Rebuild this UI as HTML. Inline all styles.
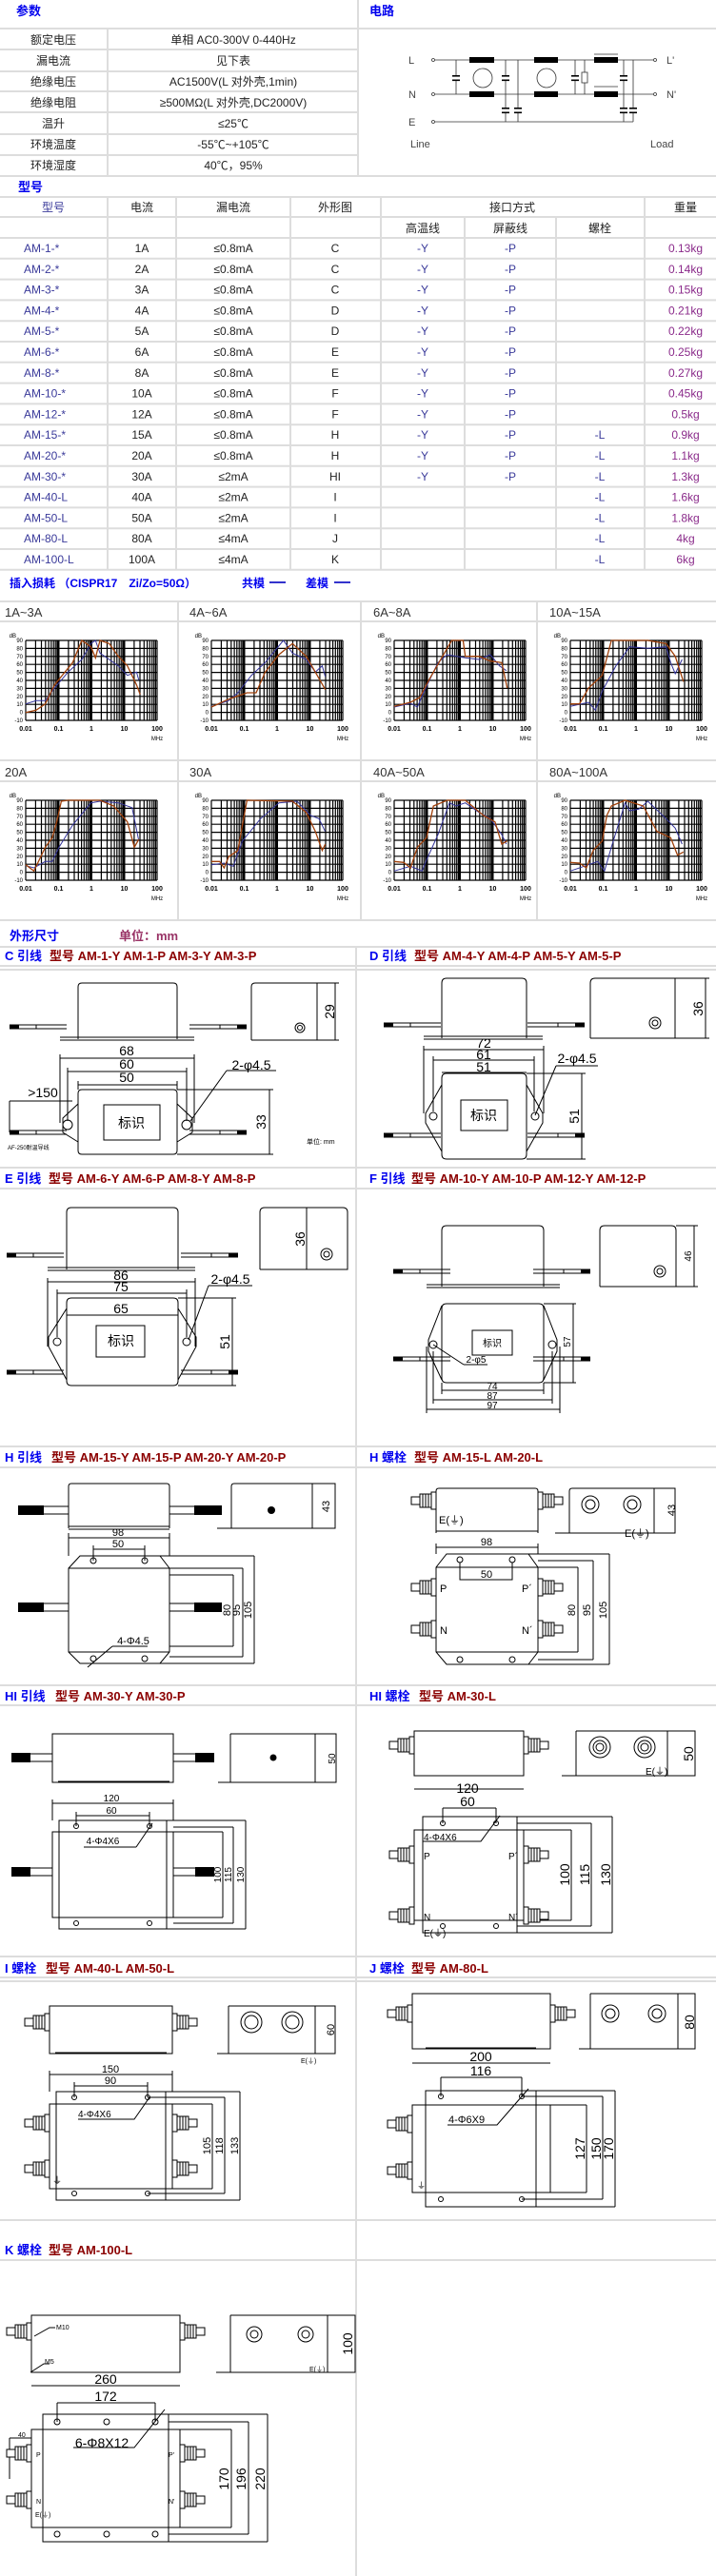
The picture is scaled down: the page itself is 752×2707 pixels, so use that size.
<!DOCTYPE html>
<html><head><meta charset="utf-8"><style>
html,body{margin:0;padding:0;background:#fff;}
svg{display:block;}
text{font-family:"Liberation Sans","Noto Sans CJK SC",sans-serif;}
.g{stroke:#ddd;stroke-width:2;fill:none}
.k{stroke:#000;stroke-width:1;fill:none}
.kw{stroke:#000;stroke-width:1;fill:#fff}
.tb{font-size:12px;fill:#222;text-anchor:middle}
.md{font-size:12px;fill:#3a3a9a}
.wt{font-size:12px;fill:#8a2a8a;text-anchor:middle}
.hd{font-size:13px;font-weight:bold;fill:#0000ee}
.st{font-size:13px;font-weight:bold}
.dm{font-size:11px;fill:#000;text-anchor:middle}
.ax{font-size:6px;fill:#000;text-anchor:end}
.axb{font-size:7px;font-weight:bold;fill:#000;text-anchor:middle}
.bl{stroke:#33339a;stroke-width:1;fill:none}
.br{stroke:#a0400a;stroke-width:1.3;fill:none}
</style></head><body>
<svg width="752" height="2707" viewBox="0 0 752 2707" xmlns="http://www.w3.org/2000/svg">
<defs>
<g id="grid">
<path d="M0 0H138M0 8.4H138M0 16.8H138M0 25.2H138M0 33.6H138M0 42H138M0 50.4H138M0 58.8H138M0 67.2H138M0 75.6H138M0 84H138" stroke="#000" stroke-width="1.2"/>
<path d="M0 0V84M10.4 0V84M16.5 0V84M20.8 0V84M24.1 0V84M26.8 0V84M29.2 0V84M31.2 0V84M32.9 0V84M34.5 0V84M44.9 0V84M51 0V84M55.3 0V84M58.6 0V84M61.3 0V84M63.7 0V84M65.7 0V84M67.4 0V84M69 0V84M79.4 0V84M85.5 0V84M89.8 0V84M93.1 0V84M95.8 0V84M98.2 0V84M100.2 0V84M101.9 0V84M103.5 0V84M113.9 0V84M120 0V84M124.3 0V84M127.6 0V84M130.3 0V84M132.7 0V84M134.7 0V84M136.4 0V84M138 0V84" stroke="#000" stroke-width="1.2"/>
<path d="M34.5 0V84M69 0V84M103.5 0V84" stroke="#000" stroke-width="2"/>
</g>
<g id="bolt"><rect x="-26" y="-4" width="9" height="8" fill="#fff" stroke="#000"/><rect x="-17" y="-7" width="12" height="14" fill="#fff" stroke="#000"/><path d="M-14 -7V7M-11 -7V7M-8 -7V7" stroke="#000"/><rect x="-5" y="-9" width="5" height="18" fill="#fff" stroke="#000"/></g>
<g id="wire"><path d="M0 -2H60M0 2H60" stroke="#000"/><path d="M0 0H10" stroke="#000" stroke-width="5"/><path d="M28 -2V2" stroke="#000"/></g>
</defs>

<!-- ===== Parameter section ===== -->
<text x="17" y="16" class="hd">参数</text>
<text x="388" y="16" class="hd">电路</text>
<path class="g" d="M0 30H752M0 52H376M0 75H376M0 96H376M0 118H376M0 141H376M0 163H376M0 185H752M113 30V185M376 0V185"/>
<g class="tb">
<text x="56" y="46">额定电压</text><text x="245" y="46">单相 AC0-300V 0-440Hz</text>
<text x="56" y="68">漏电流</text><text x="245" y="68">见下表</text>
<text x="56" y="90">绝缘电压</text><text x="245" y="90">AC1500V(L 对外壳,1min)</text>
<text x="56" y="112">绝缘电阻</text><text x="245" y="112">≥500MΩ(L 对外壳,DC2000V)</text>
<text x="56" y="134">温升</text><text x="245" y="134">≤25℃</text>
<text x="56" y="156">环境温度</text><text x="245" y="156">-55℃~+105℃</text>
<text x="56" y="178">环境湿度</text><text x="245" y="178">40℃，95%</text>
</g>
<!-- circuit -->
<g stroke="#333" fill="none" stroke-width="0.8">
<path d="M457 63H686M457 99H686M457 128H665"/>
<circle cx="455" cy="63" r="1.5"/><circle cx="455" cy="99" r="1.5"/><circle cx="455" cy="128" r="1.5"/>
<circle cx="688" cy="63" r="1.5"/><circle cx="688" cy="99" r="1.5"/>
<circle cx="507" cy="82" r="10"/><circle cx="574" cy="82" r="10"/>
<path d="M479 63V80M479 84V99M531 63V80M531 84V114M531 119V128M544 63V114M544 119V128M604 63V80M604 84V99M614 63V76M614 87V99M655 63V80M655 84V114M655 119V128M665 63V114M665 119V128"/>
<rect x="611" y="76" width="6" height="11"/>
<path d="M624 57H649M624 91H649"/>
</g>
<g fill="#000">
<rect x="493" y="60" width="26" height="6"/><rect x="493" y="96" width="26" height="6"/>
<rect x="561" y="60" width="25" height="6"/><rect x="561" y="96" width="25" height="6"/>
<rect x="624" y="60" width="25" height="6"/><rect x="624" y="96" width="25" height="6"/>
<rect x="475" y="79" width="8" height="1.6"/><rect x="475" y="83.5" width="8" height="1.6"/>
<rect x="527" y="79" width="8" height="1.6"/><rect x="527" y="83.5" width="8" height="1.6"/>
<rect x="600" y="79" width="8" height="1.6"/><rect x="600" y="83.5" width="8" height="1.6"/>
<rect x="651" y="79" width="8" height="1.6"/><rect x="651" y="83.5" width="8" height="1.6"/>
<rect x="527" y="113" width="8" height="1.6"/><rect x="527" y="117.5" width="8" height="1.6"/>
<rect x="540" y="113" width="8" height="1.6"/><rect x="540" y="117.5" width="8" height="1.6"/>
<rect x="651" y="113" width="8" height="1.6"/><rect x="651" y="117.5" width="8" height="1.6"/>
<rect x="661" y="113" width="8" height="1.6"/><rect x="661" y="117.5" width="8" height="1.6"/>
</g>
<g font-family="Liberation Mono,monospace" font-size="11" fill="#444">
<text x="429" y="67">L</text><text x="429" y="103">N</text><text x="429" y="132">E</text>
<text x="700" y="67">L'</text><text x="700" y="103">N'</text>
<text x="431" y="155">Line</text><text x="683" y="155">Load</text>
</g>

<!-- ===== Model table ===== -->
<text x="19" y="201" class="hd">型号</text>
<path class="g" d="M0 207H752M0 228H752M113 207V599M185 207V599M305 207V599M400 207V599M488 228V599M584 228V599M677 207V599"/>
<path class="g" d="M0 250H752M0 271.8H752M0 293.6H752M0 315.4H752M0 337.2H752M0 359H752M0 380.8H752M0 402.6H752M0 424.4H752M0 446.2H752M0 468H752M0 489.8H752M0 511.6H752M0 533.4H752M0 555.2H752M0 577H752M0 598.8H752"/>
<g class="tb">
<text x="56" y="222" fill="#3a3a9a">型号</text><text x="149" y="222">电流</text><text x="245" y="222">漏电流</text><text x="352" y="222">外形图</text><text x="538" y="222">接口方式</text><text x="720" y="222">重量</text>
<text x="444" y="244">高温线</text><text x="536" y="244">屏蔽线</text><text x="630" y="244">螺栓</text>
</g>
<g class="md">
<text x="25" y="265">AM-1-*</text><text x="25" y="286.8">AM-2-*</text><text x="25" y="308.6">AM-3-*</text><text x="25" y="330.4">AM-4-*</text><text x="25" y="352.2">AM-5-*</text><text x="25" y="374">AM-6-*</text><text x="25" y="395.8">AM-8-*</text><text x="25" y="417.6">AM-10-*</text><text x="25" y="439.4">AM-12-*</text><text x="25" y="461.2">AM-15-*</text><text x="25" y="483">AM-20-*</text><text x="25" y="504.8">AM-30-*</text><text x="25" y="526.6">AM-40-L</text><text x="25" y="548.4">AM-50-L</text><text x="25" y="570.2">AM-80-L</text><text x="25" y="592">AM-100-L</text>
</g>
<g class="tb">
<text x="149" y="265">1A</text><text x="149" y="286.8">2A</text><text x="149" y="308.6">3A</text><text x="149" y="330.4">4A</text><text x="149" y="352.2">5A</text><text x="149" y="374">6A</text><text x="149" y="395.8">8A</text><text x="149" y="417.6">10A</text><text x="149" y="439.4">12A</text><text x="149" y="461.2">15A</text><text x="149" y="483">20A</text><text x="149" y="504.8">30A</text><text x="149" y="526.6">40A</text><text x="149" y="548.4">50A</text><text x="149" y="570.2">80A</text><text x="149" y="592">100A</text>
<text x="245" y="265">≤0.8mA</text><text x="245" y="286.8">≤0.8mA</text><text x="245" y="308.6">≤0.8mA</text><text x="245" y="330.4">≤0.8mA</text><text x="245" y="352.2">≤0.8mA</text><text x="245" y="374">≤0.8mA</text><text x="245" y="395.8">≤0.8mA</text><text x="245" y="417.6">≤0.8mA</text><text x="245" y="439.4">≤0.8mA</text><text x="245" y="461.2">≤0.8mA</text><text x="245" y="483">≤0.8mA</text><text x="245" y="504.8">≤2mA</text><text x="245" y="526.6">≤2mA</text><text x="245" y="548.4">≤2mA</text><text x="245" y="570.2">≤4mA</text><text x="245" y="592">≤4mA</text>
<text x="352" y="265">C</text><text x="352" y="286.8">C</text><text x="352" y="308.6">C</text><text x="352" y="330.4">D</text><text x="352" y="352.2">D</text><text x="352" y="374">E</text><text x="352" y="395.8">E</text><text x="352" y="417.6">F</text><text x="352" y="439.4">F</text><text x="352" y="461.2">H</text><text x="352" y="483">H</text><text x="352" y="504.8">HI</text><text x="352" y="526.6">I</text><text x="352" y="548.4">I</text><text x="352" y="570.2">J</text><text x="352" y="592">K</text>
</g>
<g class="tb" style="fill:#3a3a9a">
<text x="444" y="265">-Y</text><text x="444" y="286.8">-Y</text><text x="444" y="308.6">-Y</text><text x="444" y="330.4">-Y</text><text x="444" y="352.2">-Y</text><text x="444" y="374">-Y</text><text x="444" y="395.8">-Y</text><text x="444" y="417.6">-Y</text><text x="444" y="439.4">-Y</text><text x="444" y="461.2">-Y</text><text x="444" y="483">-Y</text><text x="444" y="504.8">-Y</text>
<text x="536" y="265">-P</text><text x="536" y="286.8">-P</text><text x="536" y="308.6">-P</text><text x="536" y="330.4">-P</text><text x="536" y="352.2">-P</text><text x="536" y="374">-P</text><text x="536" y="395.8">-P</text><text x="536" y="417.6">-P</text><text x="536" y="439.4">-P</text><text x="536" y="461.2">-P</text><text x="536" y="483">-P</text><text x="536" y="504.8">-P</text>
<text x="630" y="461.2">-L</text><text x="630" y="483">-L</text><text x="630" y="504.8">-L</text><text x="630" y="526.6">-L</text><text x="630" y="548.4">-L</text><text x="630" y="570.2">-L</text><text x="630" y="592">-L</text>
</g>
<g class="wt">
<text x="720" y="265">0.13kg</text><text x="720" y="286.8">0.14kg</text><text x="720" y="308.6">0.15kg</text><text x="720" y="330.4">0.21kg</text><text x="720" y="352.2">0.22kg</text><text x="720" y="374">0.25kg</text><text x="720" y="395.8">0.27kg</text><text x="720" y="417.6">0.45kg</text><text x="720" y="439.4">0.5kg</text><text x="720" y="461.2">0.9kg</text><text x="720" y="483">1.1kg</text><text x="720" y="504.8">1.3kg</text><text x="720" y="526.6">1.6kg</text><text x="720" y="548.4">1.8kg</text><text x="720" y="570.2">4kg</text><text x="720" y="592">6kg</text>
</g>

<!-- ===== Insertion loss ===== -->
<text x="10" y="617" class="hd" style="font-size:12px">插入损耗 （CISPR17　Zi/Zo=50Ω）</text>
<text x="254" y="617" class="hd" style="font-size:12px">共模</text><path d="M283 612H300" stroke="#3333cc" stroke-width="2"/>
<text x="321" y="617" class="hd" style="font-size:12px">差模</text><path d="M351 612H368" stroke="#3333cc" stroke-width="2"/>
<path class="g" d="M0 632H752M0 653H752M0 799H752M0 821H752M0 967H752M187 632V967M379 632V967M564 632V967"/>
<g font-size="13" fill="#333">
<text x="5" y="648">1A~3A</text><text x="199" y="648">4A~6A</text><text x="392" y="648">6A~8A</text><text x="577" y="648">10A~15A</text>
<text x="5" y="816">20A</text><text x="199" y="816">30A</text><text x="392" y="816">40A~50A</text><text x="577" y="816">80A~100A</text>
</g>

<g transform="translate(27,673)"><use href="#grid"/>
<g class="ax"><text x="-3" y="2">90</text><text x="-3" y="10.4">80</text><text x="-3" y="18.8">70</text><text x="-3" y="27.2">60</text><text x="-3" y="35.6">50</text><text x="-3" y="44">40</text><text x="-3" y="52.4">30</text><text x="-3" y="60.8">20</text><text x="-3" y="69.2">10</text><text x="-3" y="77.6">0</text><text x="-3" y="86">-10</text><text x="-10" y="-3">dB</text></g>
<g class="axb"><text x="0" y="95">0.01</text><text x="34.5" y="95">0.1</text><text x="69" y="95">1</text><text x="103.5" y="95">10</text><text x="138" y="95">100</text><text x="138" y="105" style="font-size:6px;font-weight:normal">MHz</text></g>
<polyline class="bl" points="0,66.7 11,63.3 20.6,63.3 30.2,50 44.5,33.3 58.9,20 68.5,3.3 73.3,0 78,13.3 87.7,20 97.3,26.7 106.8,36.7 116.4,33.3 118.8,41.7"/>
<polyline class="br" points="0,75.7 11,73.3 20.6,66.7 30.2,46.7 49.3,23.3 58.9,0 68.5,6.7 73.3,18.3 78,0 87.7,3.3 97.3,16.7 106.8,26.7 116.4,46.7 120.2,56.7"/>
</g>
<g transform="translate(222,673)"><use href="#grid"/>
<g class="ax"><text x="-3" y="2">90</text><text x="-3" y="10.4">80</text><text x="-3" y="18.8">70</text><text x="-3" y="27.2">60</text><text x="-3" y="35.6">50</text><text x="-3" y="44">40</text><text x="-3" y="52.4">30</text><text x="-3" y="60.8">20</text><text x="-3" y="69.2">10</text><text x="-3" y="77.6">0</text><text x="-3" y="86">-10</text><text x="-10" y="-3">dB</text></g>
<g class="axb"><text x="0" y="95">0.01</text><text x="34.5" y="95">0.1</text><text x="69" y="95">1</text><text x="103.5" y="95">10</text><text x="138" y="95">100</text><text x="138" y="105" style="font-size:6px;font-weight:normal">MHz</text></g>
<polyline class="bl" points="0,69.3 18.2,63.3 27.8,55 42.1,36.7 56.5,23.3 75.6,0 85.2,13.3 99.6,20 109.2,33.3 116.4,26.7 119.7,38.3"/>
<polyline class="br" points="0,70 18.2,61.7 37.4,55 47,55 56.5,33.3 70.9,15 85.2,3.3 99.6,16.7 109.2,33.3 119.7,51.7"/>
</g>
<g transform="translate(414,673)"><use href="#grid"/>
<g class="ax"><text x="-3" y="2">90</text><text x="-3" y="10.4">80</text><text x="-3" y="18.8">70</text><text x="-3" y="27.2">60</text><text x="-3" y="35.6">50</text><text x="-3" y="44">40</text><text x="-3" y="52.4">30</text><text x="-3" y="60.8">20</text><text x="-3" y="69.2">10</text><text x="-3" y="77.6">0</text><text x="-3" y="86">-10</text><text x="-10" y="-3">dB</text></g>
<g class="axb"><text x="0" y="95">0.01</text><text x="34.5" y="95">0.1</text><text x="69" y="95">1</text><text x="103.5" y="95">10</text><text x="138" y="95">100</text><text x="138" y="105" style="font-size:6px;font-weight:normal">MHz</text></g>
<polyline class="bl" points="0,70 17.2,66 24.4,70 31.6,53.3 46,23.3 55.6,15 74.7,18.3 89.1,20 101,15 110.6,26.7 117.8,31.7"/>
<polyline class="br" points="0,69.3 17.2,65 26.8,60 36.4,41.7 50.8,16.7 60.4,0 72.4,0 74.7,16.7 89.1,16.7 101,21.7 113,23.3 118.7,50"/>
</g>
<g transform="translate(599,673)"><use href="#grid"/>
<g class="ax"><text x="-3" y="2">90</text><text x="-3" y="10.4">80</text><text x="-3" y="18.8">70</text><text x="-3" y="27.2">60</text><text x="-3" y="35.6">50</text><text x="-3" y="44">40</text><text x="-3" y="52.4">30</text><text x="-3" y="60.8">20</text><text x="-3" y="69.2">10</text><text x="-3" y="77.6">0</text><text x="-3" y="86">-10</text><text x="-10" y="-3">dB</text></g>
<g class="axb"><text x="0" y="95">0.01</text><text x="34.5" y="95">0.1</text><text x="69" y="95">1</text><text x="103.5" y="95">10</text><text x="138" y="95">100</text><text x="138" y="105" style="font-size:6px;font-weight:normal">MHz</text></g>
<polyline class="bl" points="0,69.3 19.2,65 26.3,73.3 33.5,53.3 47.9,26.7 62.3,6.7 81.4,8.3 100.6,6.7 105.4,23.3 110.2,35 117.4,20"/>
<polyline class="br" points="0,66.7 9.6,66.7 19.2,50 33.5,36.7 43.1,0 81.4,0 100.6,3.3 110.2,16.7 118.8,43.3"/>
</g>
<g transform="translate(27,841)"><use href="#grid"/>
<g class="ax"><text x="-3" y="2">90</text><text x="-3" y="10.4">80</text><text x="-3" y="18.8">70</text><text x="-3" y="27.2">60</text><text x="-3" y="35.6">50</text><text x="-3" y="44">40</text><text x="-3" y="52.4">30</text><text x="-3" y="60.8">20</text><text x="-3" y="69.2">10</text><text x="-3" y="77.6">0</text><text x="-3" y="86">-10</text><text x="-10" y="-3">dB</text></g>
<g class="axb"><text x="0" y="95">0.01</text><text x="34.5" y="95">0.1</text><text x="69" y="95">1</text><text x="103.5" y="95">10</text><text x="138" y="95">100</text><text x="138" y="105" style="font-size:6px;font-weight:normal">MHz</text></g>
<polyline class="bl" points="0,68.7 8.6,71 20.6,64.3 27.8,64.3 35,49.3 49.3,26 68.5,2.7 78,1 97.3,2.7 111.7,7.7 114.1,19.3 118.8,42.7"/>
<polyline class="br" points="0,67.7 8.6,74.3 20.6,49.3 27.8,39.3 32.6,22.7 37.4,1 44.5,0 78,0 92.4,6 106.8,22.7 114.1,49.3 118.8,41"/>
</g>
<g transform="translate(222,841)"><use href="#grid"/>
<g class="ax"><text x="-3" y="2">90</text><text x="-3" y="10.4">80</text><text x="-3" y="18.8">70</text><text x="-3" y="27.2">60</text><text x="-3" y="35.6">50</text><text x="-3" y="44">40</text><text x="-3" y="52.4">30</text><text x="-3" y="60.8">20</text><text x="-3" y="69.2">10</text><text x="-3" y="77.6">0</text><text x="-3" y="86">-10</text><text x="-10" y="-3">dB</text></g>
<g class="axb"><text x="0" y="95">0.01</text><text x="34.5" y="95">0.1</text><text x="69" y="95">1</text><text x="103.5" y="95">10</text><text x="138" y="95">100</text><text x="138" y="105" style="font-size:6px;font-weight:normal">MHz</text></g>
<polyline class="bl" points="0,67.7 13.4,66 23,69.3 32.6,42.7 51.7,19.3 70.9,2.7 90,1 104.4,16 113,19.3 119.5,32.7"/>
<polyline class="br" points="0,64.3 8.6,64.3 13.4,71 18.2,59.3 27.8,52.7 32.6,26 37.4,0 85.2,1 99.6,12.7 109.2,32.7 116.4,52.7 119.7,46"/>
</g>
<g transform="translate(414,841)"><use href="#grid"/>
<g class="ax"><text x="-3" y="2">90</text><text x="-3" y="10.4">80</text><text x="-3" y="18.8">70</text><text x="-3" y="27.2">60</text><text x="-3" y="35.6">50</text><text x="-3" y="44">40</text><text x="-3" y="52.4">30</text><text x="-3" y="60.8">20</text><text x="-3" y="69.2">10</text><text x="-3" y="77.6">0</text><text x="-3" y="86">-10</text><text x="-10" y="-3">dB</text></g>
<g class="axb"><text x="0" y="95">0.01</text><text x="34.5" y="95">0.1</text><text x="69" y="95">1</text><text x="103.5" y="95">10</text><text x="138" y="95">100</text><text x="138" y="105" style="font-size:6px;font-weight:normal">MHz</text></g>
<polyline class="bl" points="0,74.3 17.2,69.3 29.2,74.3 34,62.7 46,36 58,2.7 65.1,6 74.7,2.7 89.1,12.7 101,19.3 113,36 117.8,46"/>
<polyline class="br" points="0,64.3 10,65.3 17.2,71 24.4,49.3 34,39.3 41.2,6 55.6,0 74.7,0 93.9,16 105.9,22.7 113,46 118.7,42.7"/>
</g>
<g transform="translate(599,841)"><use href="#grid"/>
<g class="ax"><text x="-3" y="2">90</text><text x="-3" y="10.4">80</text><text x="-3" y="18.8">70</text><text x="-3" y="27.2">60</text><text x="-3" y="35.6">50</text><text x="-3" y="44">40</text><text x="-3" y="52.4">30</text><text x="-3" y="60.8">20</text><text x="-3" y="69.2">10</text><text x="-3" y="77.6">0</text><text x="-3" y="86">-10</text><text x="-10" y="-3">dB</text></g>
<g class="axb"><text x="0" y="95">0.01</text><text x="34.5" y="95">0.1</text><text x="69" y="95">1</text><text x="103.5" y="95">10</text><text x="138" y="95">100</text><text x="138" y="105" style="font-size:6px;font-weight:normal">MHz</text></g>
<polyline class="bl" points="0,74.3 19.2,67.7 28.7,64.3 35.9,74.3 43.1,49.3 57.5,2.7 62.3,11 71.9,9.3 81.4,1 100.6,19.3 110.2,29.3 117.4,46"/>
<polyline class="br" points="0,65.3 9.6,66 16.8,71 24,52.7 33.5,42.7 38.3,16 43.1,6 57.5,0 76.6,6 91,32.7 105.4,39.3 112.6,57.7 118.8,54.3"/>
</g>

<!-- ===== Dimensions ===== -->
<text x="10" y="988" class="hd">外形尺寸</text>
<text x="125" y="988" class="st" fill="#993366">单位：mm</text>
<path class="g" d="M0 995H752M374 995V2707"/>
<path class="g" d="M0 1015H752M0 1019H752"/>
<text x="5" y="1009" class="st" fill="#0000ee">C 引线</text><text x="52" y="1009" class="st" fill="#8b0000">型号 AM-1-Y AM-1-P AM-3-Y AM-3-P</text>
<text x="388" y="1009" class="st" fill="#0000ee">D 引线</text><text x="435" y="1009" class="st" fill="#8b0000">型号 AM-4-Y AM-4-P AM-5-Y AM-5-P</text>

<!-- C -->
<g class="k">
<path d="M82 1092V1037Q82 1033 86 1033H182Q186 1033 186 1037V1092"/><path d="M63 1090H204M63 1093H204"/>
<path d="M264 1093V1037Q264 1033 268 1033H333V1093H264M333 1033H356M333 1093H356M352 1033V1093"/>
<circle cx="315" cy="1080" r="5"/><circle cx="315" cy="1080" r="2.5"/>
<path d="M63 1112H204M71 1126H196M82 1140H186M63 1108V1180M204 1108V1180M71 1122V1178M196 1122V1178M82 1136V1145M186 1136V1145"/>
<path d="M82 1149V1209Q82 1213 86 1213H182Q186 1213 186 1209V1149Q186 1145 182 1145H86Q82 1145 82 1149"/>
<path d="M82 1160L66 1175V1190L82 1200M186 1160L202 1175V1190L186 1200"/>
<circle cx="71" cy="1182" r="5"/><circle cx="196" cy="1182" r="5"/>
<rect x="109" y="1161" width="59" height="37"/>
<path d="M186 1145H287M186 1213H287M283 1145V1213"/>
<path d="M10 1157H76M10 1157V1190"/>
<path d="M238 1125H290M238 1125L200 1178"/>
</g>
<use href="#wire" transform="translate(10,1079)"/><use href="#wire" transform="translate(259,1079) scale(-1,1)"/>
<use href="#wire" transform="translate(10,1190)"/><use href="#wire" transform="translate(259,1190) scale(-1,1)"/>
<g class="dm" style="font-size:14px"><text x="133" y="1109">68</text><text x="133" y="1123">60</text><text x="133" y="1137">50</text><text x="45" y="1153">&gt;150</text>
<text x="138" y="1185">标识</text><text x="264" y="1124">2-φ4.5</text>
<text transform="translate(351,1063) rotate(-90)">29</text><text transform="translate(279,1179) rotate(-90)">33</text></g>
<text x="8" y="1208" font-size="6">AF-250耐温导线</text><text x="322" y="1202" font-size="7">单位: mm</text>

<!-- D -->
<g class="k">
<path d="M464 1091V1033Q464 1028 469 1028H548Q553 1028 553 1033V1091"/><path d="M445 1089H570M445 1092H570"/>
<path d="M620 1091V1033Q620 1028 625 1028H709V1091H620M709 1028H745M709 1091H745M741 1028V1091"/>
<circle cx="688" cy="1075" r="6"/><circle cx="688" cy="1075" r="3"/>
<path d="M445 1103H571M455 1114H561M464 1127H553M445 1099V1170M571 1099V1170M455 1110V1168M561 1110V1168"/>
<path d="M464 1133Q464 1128 469 1128H548Q553 1128 553 1133V1213Q553 1218 548 1218H469Q464 1218 464 1213Z"/>
<path d="M464 1140L447 1170V1180L464 1210M553 1140L570 1170V1180L553 1210"/>
<circle cx="455" cy="1173" r="4"/><circle cx="562" cy="1173" r="4"/>
<rect x="484" y="1156" width="49" height="32"/>
<path d="M553 1128H615M553 1218H615M611 1128V1218"/>
<path d="M584 1120H628M584 1120L562 1172"/>
</g>
<use href="#wire" transform="translate(403,1077)"/><use href="#wire" transform="translate(614,1077) scale(-1,1)"/>
<use href="#wire" transform="translate(403,1193)"/><use href="#wire" transform="translate(614,1193) scale(-1,1)"/>
<g class="dm" style="font-size:14px"><text x="508" y="1101">72</text><text x="508" y="1113">61</text><text x="508" y="1126">51</text>
<text x="508" y="1177">标识</text><text x="606" y="1117">2-φ4.5</text>
<text transform="translate(738,1060) rotate(-90)">36</text><text transform="translate(608,1173) rotate(-90)">51</text></g>

<!-- E/F titles -->
<path class="g" d="M0 1227H752M0 1249H752"/>
<text x="5" y="1243" class="st" fill="#0000ee">E 引线</text><text x="51" y="1243" class="st" fill="#8b0000">型号 AM-6-Y AM-6-P AM-8-Y AM-8-P</text>
<text x="388" y="1243" class="st" fill="#0000ee">F 引线</text><text x="432" y="1243" class="st" fill="#8b0000">型号 AM-10-Y AM-10-P AM-12-Y AM-12-P</text>

<!-- E -->
<g class="k">
<path d="M70 1334V1274Q70 1269 75 1269H182Q187 1269 187 1274V1334"/><path d="M50 1332H205M50 1335H205"/>
<path d="M273 1334V1274Q273 1269 278 1269H360Q365 1269 365 1274V1334H273M322 1269V1334"/>
<circle cx="343" cy="1318" r="6"/><circle cx="343" cy="1318" r="3"/>
<path d="M50 1347H205M60 1359H196M70 1382H187M50 1343V1415M205 1343V1415M60 1355V1405M196 1355V1405"/>
<path d="M70 1369Q70 1364 75 1364H182Q187 1364 187 1369V1451Q187 1456 182 1456H75Q70 1456 70 1451Z"/>
<path d="M70 1375L51 1405V1415L70 1450M187 1375L206 1405V1415L187 1450"/>
<circle cx="60" cy="1410" r="4"/><circle cx="196" cy="1410" r="4"/>
<rect x="101" y="1393" width="51" height="33"/>
<path d="M187 1364H248M187 1456H248M244 1364V1456"/>
<path d="M219 1351H265M219 1351L198 1408"/>
</g>
<use href="#wire" transform="translate(7,1319)"/><use href="#wire" transform="translate(250,1319) scale(-1,1)"/>
<use href="#wire" transform="translate(7,1442)"/><use href="#wire" transform="translate(250,1442) scale(-1,1)"/>
<g class="dm" style="font-size:14px"><text x="127" y="1345">86</text><text x="127" y="1357">75</text><text x="127" y="1380">65</text>
<text x="127" y="1414">标识</text><text x="242" y="1349">2-φ4.5</text>
<text transform="translate(320,1302) rotate(-90)">36</text><text transform="translate(241,1410) rotate(-90)">51</text></g>

<!-- F -->
<g class="k">
<path d="M464 1352V1293Q464 1288 469 1288H566Q571 1288 571 1293V1352"/><path d="M448 1350H588M448 1353H588"/>
<path d="M630 1352V1293Q630 1288 635 1288H705Q710 1288 710 1293V1352H630M710 1288H733M710 1352H733M729 1288V1352"/>
<circle cx="693" cy="1336" r="6"/><circle cx="693" cy="1336" r="3"/>
<path d="M464 1375Q464 1370 469 1370H566Q571 1370 571 1375V1448Q571 1453 566 1453H469Q464 1453 464 1448Z"/>
<path d="M464 1372L450 1408V1420L464 1450M571 1372L585 1408V1420L571 1450"/>
<circle cx="455" cy="1413" r="4"/><circle cx="580" cy="1413" r="4"/>
<rect x="496" y="1398" width="42" height="26"/>
<path d="M571 1370H605M571 1453H605M602 1370V1453"/>
<path d="M464 1461H571M455 1471H580M448 1481H588M464 1453V1465M571 1453V1465M455 1420V1475M580 1420V1475M448 1415V1485M588 1415V1485"/>
<path d="M487 1434H512M487 1434L455 1413"/>
</g>
<use href="#wire" transform="translate(413,1336)"/><use href="#wire" transform="translate(620,1336) scale(-1,1)"/>
<use href="#wire" transform="translate(413,1428)"/><use href="#wire" transform="translate(620,1428) scale(-1,1)"/>
<g class="dm" style="font-size:10px"><text x="517" y="1460">74</text><text x="517" y="1470">87</text><text x="517" y="1480">97</text>
<text x="517" y="1415">标识</text><text x="500" y="1432">2-φ5</text>
<text transform="translate(726,1320) rotate(-90)">46</text><text transform="translate(599,1410) rotate(-90)">57</text></g>

<!-- H titles -->
<path class="g" d="M0 1520H752M0 1542H752"/>
<text x="5" y="1536" class="st" fill="#0000ee">H 引线</text><text x="54" y="1536" class="st" fill="#8b0000">型号 AM-15-Y AM-15-P AM-20-Y AM-20-P</text>
<text x="388" y="1536" class="st" fill="#0000ee">H 螺栓</text><text x="435" y="1536" class="st" fill="#8b0000">型号 AM-15-L AM-20-L</text>

<!-- H lead -->
<g class="k">
<path d="M72 1606V1562Q72 1559 75 1559H175Q178 1559 178 1562V1606M72 1604H178M72 1607H178"/>
<path d="M243 1606V1562Q243 1559 246 1559H352V1606H228M328 1559V1606M352 1559V1606"/>
<path d="M72 1616H178M98 1628H152M98 1624V1640M152 1624V1640M72 1611V1635M178 1611V1635"/>
<path d="M84 1635H168L178 1648V1736L168 1748H84L72 1736V1648Z"/><path d="M72 1648H178M72 1736H178"/>
<circle cx="98" cy="1640" r="3"/><circle cx="152" cy="1640" r="3"/><circle cx="98" cy="1743" r="3"/><circle cx="152" cy="1743" r="3"/>
<path d="M152 1635H267M178 1648H255M178 1655H245M178 1730H245M178 1741H255M152 1748H267M245 1655V1730M255 1648V1741M267 1635V1748"/>
<path d="M118 1730H155M118 1730L92 1752"/>
<path d="M46 1583H72M46 1591H72M178 1583H204M178 1591H204M46 1685H72M46 1693H72M178 1685H204M178 1693H204"/>
</g>
<g fill="#000"><rect x="19" y="1582" width="27" height="10"/><rect x="204" y="1582" width="29" height="10"/><rect x="19" y="1684" width="27" height="10"/><rect x="204" y="1684" width="29" height="10"/><circle cx="285" cy="1587" r="4"/></g>
<g class="dm"><text x="124" y="1614">98</text><text x="124" y="1626">50</text><text x="140" y="1728">4-Φ4.5</text>
<text transform="translate(346,1583) rotate(-90)">43</text><text transform="translate(242,1692) rotate(-90)">80</text><text transform="translate(252,1692) rotate(-90)">95</text><text transform="translate(264,1692) rotate(-90)">105</text></g>

<!-- H bolt -->
<g class="k">
<path d="M458 1611V1567Q458 1564 461 1564H562Q565 1564 565 1567V1611M458 1609H565"/>
<path d="M598 1611V1567Q598 1564 601 1564H709V1611H583M687 1564V1611"/>
<circle cx="620" cy="1581" r="9"/><circle cx="620" cy="1581" r="5"/><circle cx="664" cy="1581" r="9"/><circle cx="664" cy="1581" r="5"/>
<path d="M458 1626H565M458 1622V1633M565 1622V1633"/>
<path d="M469 1633H555L565 1647V1736L555 1749H469L458 1736V1647Z"/><path d="M458 1647H565M458 1736H565"/>
<circle cx="483" cy="1639" r="3"/><circle cx="538" cy="1639" r="3"/><circle cx="483" cy="1744" r="3"/><circle cx="538" cy="1744" r="3"/>
<path d="M483 1642V1660H538V1642"/>
<path d="M538 1633H640M565 1640H623M565 1647H607M565 1736H607M565 1744H623M538 1749H640M607 1647V1736M623 1640V1744M640 1633V1749"/>
</g>
<use href="#bolt" transform="translate(458,1577)"/><use href="#bolt" transform="translate(565,1577) scale(-1,1)"/>
<use href="#bolt" transform="translate(458,1668)"/><use href="#bolt" transform="translate(565,1668) scale(-1,1)"/>
<use href="#bolt" transform="translate(458,1712)"/><use href="#bolt" transform="translate(565,1712) scale(-1,1)"/>
<g font-size="11"><text x="461" y="1601">E(⏚)</text><text x="656" y="1615">E(⏚)</text><text x="462" y="1673">P</text><text x="548" y="1673">P´</text><text x="462" y="1717">N</text><text x="548" y="1717">N´</text></g>
<g class="dm"><text x="511" y="1624">98</text><text x="511" y="1658">50</text>
<text transform="translate(709,1587) rotate(-90)">43</text><text transform="translate(604,1692) rotate(-90)">80</text><text transform="translate(620,1692) rotate(-90)">95</text><text transform="translate(637,1692) rotate(-90)">105</text></g>

<!-- HI titles -->
<path class="g" d="M0 1771H752M0 1792H752"/>
<text x="5" y="1787" class="st" fill="#0000ee">HI 引线</text><text x="58" y="1787" class="st" fill="#8b0000">型号 AM-30-Y AM-30-P</text>
<text x="388" y="1787" class="st" fill="#0000ee">HI 螺栓</text><text x="440" y="1787" class="st" fill="#8b0000">型号 AM-30-L</text>

<!-- HI lead -->
<g class="k">
<rect x="55" y="1822" width="127" height="51"/><path d="M61 1872H178"/>
<path d="M242 1822H353V1873H229M242 1822V1873M331 1822V1873"/>
<path d="M55 1895H182M80 1908H157M55 1891V1913M182 1891V1913M80 1904V1919M157 1904V1919"/>
<rect x="62" y="1913" width="113" height="114"/><rect x="55" y="1925" width="127" height="90"/>
<circle cx="80" cy="1919" r="2.5"/><circle cx="157" cy="1919" r="2.5"/><circle cx="80" cy="2021" r="2.5"/><circle cx="157" cy="2021" r="2.5"/>
<path d="M157 1913H258M182 1920H245M182 1925H234M182 2015H234M182 2021H245M157 2027H258M234 1925V2015M245 1920V2021M258 1913V2027"/>
<path d="M88 1941H143M143 1941L160 1916"/>
<path d="M32 1843H55M32 1851H55M182 1843H205M182 1851H205M32 1963H55M32 1971H55M182 1963H205M182 1971H205"/>
</g>
<g fill="#000"><rect x="12" y="1842" width="20" height="10"/><rect x="205" y="1842" width="20" height="10"/><rect x="12" y="1962" width="20" height="10"/><rect x="205" y="1962" width="20" height="10"/><circle cx="287" cy="1847" r="3.5"/></g>
<g class="dm" style="font-size:10px"><text x="117" y="1893">120</text><text x="117" y="1906">60</text><text x="108" y="1938">4-Φ4X6</text>
<text transform="translate(352,1848) rotate(-90)">50</text><text transform="translate(232,1970) rotate(-90)">100</text><text transform="translate(243,1970) rotate(-90)">115</text><text transform="translate(256,1970) rotate(-90)">130</text></g>

<!-- HI bolt -->
<g class="k">
<rect x="435" y="1819" width="115" height="47"/>
<path d="M605 1819H730V1866H590M605 1819V1866M701 1819V1866"/>
<circle cx="630" cy="1836" r="11"/><circle cx="630" cy="1836" r="7"/><circle cx="630" cy="1836" r="4"/><circle cx="677" cy="1836" r="11"/><circle cx="677" cy="1836" r="7"/><circle cx="677" cy="1836" r="4"/>
<path d="M435 1880H550M465 1900H521M465 1900V1916M521 1900V1916"/>
<rect x="444" y="1909" width="99" height="122"/><rect x="435" y="1923" width="115" height="95"/>
<circle cx="465" cy="1916" r="2.5"/><circle cx="521" cy="1916" r="2.5"/><circle cx="465" cy="2024" r="2.5"/><circle cx="521" cy="2024" r="2.5"/>
<path d="M543 1909H643M543 1916H621M550 1923H600M550 2018H600M543 2024H621M543 2031H643M600 1923V2018M621 1916V2024M643 1909V2031"/>
<path d="M444 1935H505L525 1908"/>
</g>
<use href="#bolt" transform="translate(435,1834)"/><use href="#bolt" transform="translate(550,1834) scale(-1,1)"/>
<use href="#bolt" transform="translate(435,1949)"/><use href="#bolt" transform="translate(550,1949) scale(-1,1)"/>
<use href="#bolt" transform="translate(435,2013)"/><use href="#bolt" transform="translate(550,2013) scale(-1,1)"/>
<g font-size="10"><text x="445" y="1954">P</text><text x="534" y="1954">P´</text><text x="445" y="2018">N</text><text x="534" y="2018">N´</text><text x="445" y="2035">E(⏚)</text><text x="678" y="1865">E(⏚)</text><text x="445" y="1934">4-Φ4X6</text></g>
<g class="dm" style="font-size:14px"><text x="491" y="1884">120</text><text x="491" y="1898">60</text>
<text transform="translate(728,1843) rotate(-90)">50</text><text transform="translate(598,1970) rotate(-90)">100</text><text transform="translate(619,1970) rotate(-90)">115</text><text transform="translate(641,1970) rotate(-90)">130</text></g>

<!-- I/J titles -->
<path class="g" d="M0 2056H752M0 2078H752M0 2082H752"/>
<text x="5" y="2073" class="st" fill="#0000ee">I 螺栓</text><text x="48" y="2073" class="st" fill="#8b0000">型号 AM-40-L AM-50-L</text>
<text x="388" y="2073" class="st" fill="#0000ee">J 螺栓</text><text x="432" y="2073" class="st" fill="#8b0000">型号 AM-80-L</text>

<!-- I -->
<g class="k">
<rect x="52" y="2108" width="129" height="50"/><path d="M58 2157H175"/>
<path d="M240 2108H352V2158H228M240 2108V2158M331 2108V2158"/>
<circle cx="264" cy="2125" r="11"/><circle cx="264" cy="2125" r="7"/><circle cx="307" cy="2125" r="11"/><circle cx="307" cy="2125" r="7"/>
<path d="M52 2180H181M78 2192H155M52 2176V2198M181 2176V2198M78 2188V2204M155 2188V2204"/>
<rect x="59" y="2198" width="115" height="114"/><rect x="52" y="2211" width="129" height="89"/>
<circle cx="78" cy="2204" r="2.5"/><circle cx="155" cy="2204" r="2.5"/><circle cx="78" cy="2305" r="2.5"/><circle cx="155" cy="2305" r="2.5"/>
<path d="M174 2198H252M155 2204H236M181 2211H223M181 2300H223M155 2305H236M174 2312H252M223 2211V2300M236 2204V2305M252 2198V2312"/>
<path d="M82 2227H141L157 2204"/>
</g>
<use href="#bolt" transform="translate(52,2125)"/><use href="#bolt" transform="translate(181,2125) scale(-1,1)"/>
<use href="#bolt" transform="translate(52,2231)"/><use href="#bolt" transform="translate(181,2231) scale(-1,1)"/>
<use href="#bolt" transform="translate(52,2279)"/><use href="#bolt" transform="translate(181,2279) scale(-1,1)"/>
<g font-size="10"><text x="82" y="2225">4-Φ4X6</text><text x="316" y="2168" font-size="7">E(⏚)</text><text x="55" y="2295">⏚</text></g>
<g class="dm"><text x="116" y="2178">150</text><text x="116" y="2190">90</text>
<text transform="translate(351,2133) rotate(-90)">60</text><text transform="translate(221,2255) rotate(-90)">105</text><text transform="translate(234,2255) rotate(-90)">118</text><text transform="translate(250,2255) rotate(-90)">133</text></g>

<!-- J -->
<g class="k">
<rect x="433" y="2095" width="145" height="58"/><path d="M447 2152H563"/>
<path d="M620 2095H730V2153H608M620 2095V2153M712 2095V2153"/>
<circle cx="641" cy="2116" r="9"/><circle cx="641" cy="2116" r="5"/><circle cx="690" cy="2116" r="9"/><circle cx="690" cy="2116" r="5"/>
<path d="M433 2168H578M463 2183H548M463 2183V2203M548 2183V2203"/>
<rect x="447" y="2197" width="116" height="122"/><rect x="433" y="2212" width="145" height="92"/>
<circle cx="463" cy="2203" r="2.5"/><circle cx="548" cy="2203" r="2.5"/><circle cx="463" cy="2311" r="2.5"/><circle cx="548" cy="2311" r="2.5"/>
<path d="M563 2197H646M548 2203H633M578 2212H616M578 2304H616M548 2311H633M563 2319H646M616 2212V2304M633 2203V2311M646 2197V2319"/>
<path d="M470 2233H522L555 2195"/>
</g>
<use href="#bolt" transform="translate(433,2116)"/><use href="#bolt" transform="translate(578,2116) scale(-1,1)"/>
<use href="#bolt" transform="translate(433,2232)"/><use href="#bolt" transform="translate(433,2281)"/>
<g font-size="11"><text x="471" y="2231">4-Φ6X9</text><text x="438" y="2300" font-size="9">⏚</text></g>
<g class="dm" style="font-size:14px"><text x="505" y="2166">200</text><text x="505" y="2181">116</text>
<text transform="translate(729,2125) rotate(-90)">80</text><text transform="translate(614,2258) rotate(-90)">127</text><text transform="translate(631,2258) rotate(-90)">150</text><text transform="translate(644,2258) rotate(-90)">170</text></g>

<!-- K titles -->
<path class="g" d="M0 2333H752M0 2375H752"/>
<text x="5" y="2369" class="st" fill="#0000ee">K 螺栓</text><text x="51" y="2369" class="st" fill="#8b0000">型号 AM-100-L</text>

<!-- K -->
<g class="k">
<rect x="33" y="2433" width="156" height="60"/>
<path d="M242 2433H373V2493H227M242 2433V2493M344 2433V2493"/>
<circle cx="267" cy="2453" r="8"/><circle cx="267" cy="2453" r="4"/><circle cx="321" cy="2453" r="8"/><circle cx="321" cy="2453" r="4"/>
<path d="M36 2455L52 2446H58M32 2493L46 2484H52"/>
<path d="M33 2507H189M60 2525H163M60 2525V2545M163 2525V2545"/>
<rect x="45" y="2537" width="132" height="134"/><rect x="33" y="2553" width="156" height="103"/>
<circle cx="60" cy="2545" r="3"/><circle cx="112" cy="2545" r="3"/><circle cx="163" cy="2545" r="3"/><circle cx="60" cy="2663" r="3"/><circle cx="112" cy="2663" r="3"/><circle cx="163" cy="2663" r="3"/>
<path d="M177 2537H281M177 2545H261M189 2553H243M189 2656H243M177 2663H261M177 2671H281M243 2553V2656M261 2545V2663M281 2537V2671"/>
<path d="M77 2572H141L173 2532"/><path d="M10 2562H33M10 2562V2605"/>
</g>
<use href="#bolt" transform="translate(33,2450)"/><use href="#bolt" transform="translate(189,2450) scale(-1,1)"/>
<use href="#bolt" transform="translate(33,2578)"/><use href="#bolt" transform="translate(189,2578) scale(-1,1)"/>
<use href="#bolt" transform="translate(33,2627)"/><use href="#bolt" transform="translate(189,2627) scale(-1,1)"/>
<g font-size="7"><text x="59" y="2448">M10</text><text x="47" y="2484">M5</text><text x="19" y="2561">40</text><text x="325" y="2492">E(⏚)</text><text x="37" y="2645">E(⏚)</text><text x="38" y="2582">P</text><text x="177" y="2582">P'</text><text x="38" y="2631">N</text><text x="177" y="2631">N'</text></g>
<g class="dm" style="font-size:14px"><text x="111" y="2505">260</text><text x="111" y="2523">172</text><text x="107" y="2572">6-Φ8X12</text>
<text transform="translate(370,2463) rotate(-90)">100</text><text transform="translate(240,2605) rotate(-90)">170</text><text transform="translate(258,2605) rotate(-90)">196</text><text transform="translate(278,2605) rotate(-90)">220</text></g>
</svg>
</body></html>
